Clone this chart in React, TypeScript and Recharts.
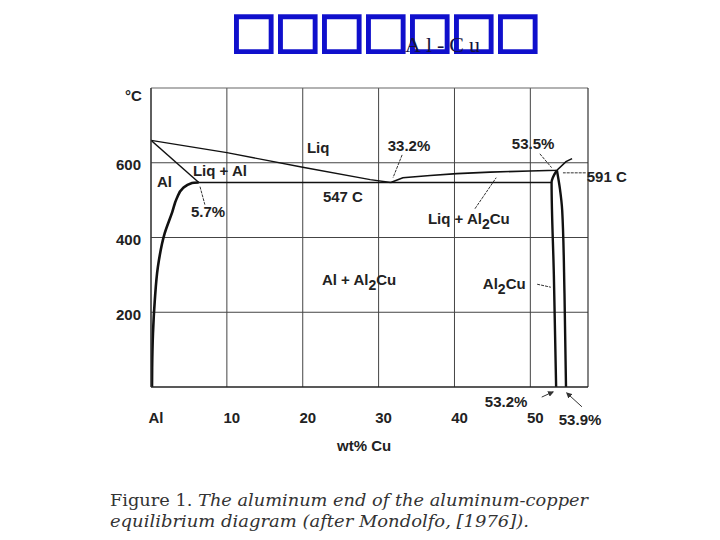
import React from 'react';
import {
  ComposedChart,
  Line,
  XAxis,
  YAxis,
  CartesianGrid,
  ReferenceLine,
  ReferenceDot,
} from 'recharts';

// ---- axes ----
const xTicks = [0, 10, 20, 30, 40, 50];
const xTickLabels = ['Al', '10', '20', '30', '40', '50'];
const yTicks = [200, 400, 600];
const xDomain = [0, 57.6];
const yDomain = [0, 800];

// ---- phase boundaries (wt% Cu, °C) ----
const liquidusAl = [
  { x: 0, t: 660 },
  { x: 10, t: 627 },
  { x: 20, t: 588 },
  { x: 28.9, t: 555 },
  { x: 31.6, t: 547 },
];
const liquidusAl2Cu = [
  { x: 31.6, t: 547 },
  { x: 33.2, t: 560 },
  { x: 36.8, t: 566 },
  { x: 40.3, t: 571 },
  { x: 44.7, t: 575 },
  { x: 49.9, t: 578 },
  { x: 53.5, t: 580 },
  { x: 54.7, t: 603 },
  { x: 55.5, t: 611 },
];
const solidusAl = [
  { x: 0, t: 660 },
  { x: 6.3, t: 547 },
];
const eutecticLine = [
  { x: 6.3, t: 547 },
  { x: 52.8, t: 547 },
];
const solvusAl = [
  { x: 6.3, t: 547 },
  { x: 5.4, t: 546 },
  { x: 4.2, t: 532 },
  { x: 3.4, t: 505 },
  { x: 2.8, t: 468 },
  { x: 1.8, t: 411 },
  { x: 0.9, t: 320 },
  { x: 0.5, t: 232 },
  { x: 0.26, t: 144 },
  { x: 0.15, t: 53 },
  { x: 0.13, t: 0 },
];
const al2CuLeft = [
  { x: 53.5, t: 580 },
  { x: 52.8, t: 547 },
  { x: 53.1, t: 300 },
  { x: 53.4, t: 0 },
];
const al2CuRight = [
  { x: 53.5, t: 580 },
  { x: 53.9, t: 530 },
  { x: 54.2, t: 472 },
  { x: 54.5, t: 250 },
  { x: 54.7, t: 0 },
];

// ---- leader lines ----
const leaders = [
  { x1: 6.46, t1: 536, x2: 7.1, t2: 488, arrow: false },
  { x1: 33.1, t1: 621, x2: 31.9, t2: 560, arrow: false },
  { x1: 51.25, t1: 624, x2: 52.8, t2: 587, arrow: false },
  { x1: 42.7, t1: 477, x2: 45.5, t2: 560, arrow: false },
  { x1: 50.9, t1: 275, x2: 52.7, t2: 267, arrow: false },
  { x1: 51.5, t1: -27, x2: 53.0, t2: -13, arrow: true },
  { x1: 56.8, t1: -53, x2: 54.8, t2: -16, arrow: true },
  { x1: 57.3, t1: 573, x2: 54.3, t2: 573, arrow: false },
];

// ---- annotation labels (left edge x, vertical centre t) ----
const labels = [
  { x: 20.55, t: 643, text: 'Liq', sub: '', rest: '' },
  { x: 5.53, t: 581, text: 'Liq + Al', sub: '', rest: '' },
  { x: 0.79, t: 552, text: 'Al', sub: '', rest: '' },
  { x: 22.66, t: 512, text: '547 C', sub: '', rest: '' },
  { x: 5.27, t: 472, text: '5.7%', sub: '', rest: '' },
  { x: 31.2, t: 648, text: '33.2%', sub: '', rest: '' },
  { x: 47.56, t: 653, text: '53.5%', sub: '', rest: '' },
  { x: 57.44, t: 565, text: '591 C', sub: '', rest: '' },
  { x: 36.5, t: 451, text: 'Liq + Al', sub: '2', rest: 'Cu' },
  { x: 22.53, t: 288, text: 'Al + Al', sub: '2', rest: 'Cu' },
  { x: 43.74, t: 277, text: 'Al', sub: '2', rest: 'Cu' },
  { x: 44.0, t: -37, text: '53.2%', sub: '', rest: '' },
  { x: 53.75, t: -85, text: '53.9%', sub: '', rest: '' },
];

const titleBoxes = ['□', '□', '□', '□', '□', '□', '□'];
const titleText = 'Al-Cu';
const captionLine1a = 'Figure 1. ';
const captionLine1b = 'The aluminum end of the aluminum-copper';
const captionLine2 = 'equilibrium diagram (after Mondolfo, [1976]).';

const SANS = 'Liberation Sans, Arial, sans-serif';
const INK = '#222';

const XTick = (props: any) => {
  const { x, y, payload, index } = props;
  const i = xTicks.indexOf(payload.value);
  return (
    <text
      x={x + 5}
      y={y + 30}
      textAnchor="middle"
      dominantBaseline="central"
      fontFamily={SANS}
      fontWeight="bold"
      fontSize={15}
      fill={INK}
    >
      {xTickLabels[i >= 0 ? i : index]}
    </text>
  );
};

const YTick = (props: any) => {
  const { x, y, payload } = props;
  return (
    <text
      x={x}
      y={y + 2}
      textAnchor="end"
      dominantBaseline="central"
      fontFamily={SANS}
      fontWeight="bold"
      fontSize={15}
      fill={INK}
    >
      {payload.value}
    </text>
  );
};

const makeLabelShape = (l: any) => (p: any) => (
  <text
    x={p.cx}
    y={p.cy}
    dominantBaseline="central"
    fontFamily={SANS}
    fontWeight="bold"
    fontSize={15}
    fill={INK}
  >
    <tspan>{l.text}</tspan>
    {l.sub ? (
      <tspan dy={6} fontSize={14}>
        {l.sub}
      </tspan>
    ) : null}
    {l.rest ? <tspan dy={-6}>{l.rest}</tspan> : null}
  </text>
);

const series = [
  { data: liquidusAl, w: 1.4, type: 'linear' },
  { data: liquidusAl2Cu, w: 1.6, type: 'linear' },
  { data: solidusAl, w: 1.4, type: 'linear' },
  { data: eutecticLine, w: 1.4, type: 'linear' },
  { data: solvusAl, w: 2.6, type: 'monotoneY' },
  { data: al2CuLeft, w: 2.4, type: 'monotoneY' },
  { data: al2CuRight, w: 2.4, type: 'monotoneY' },
];

export default function App() {
  return (
    <div style={{ position: 'absolute', left: 0, top: 0, width: 720, height: 540, background: '#fff' }}>
      <ComposedChart
        width={720}
        height={540}
        margin={{ top: 88, right: 132, bottom: 123, left: 111 }}
      >
        <CartesianGrid
          stroke="#444"
          strokeWidth={1}
          horizontalValues={yTicks}
          verticalValues={xTicks}
        />
        <XAxis
          type="number"
          dataKey="x"
          domain={xDomain}
          ticks={xTicks}
          allowDataOverflow
          height={30}
          tickSize={0}
          tickMargin={0}
          tickLine={false}
          axisLine={{ stroke: '#222', strokeWidth: 1.5 }}
          tick={<XTick />}
        />
        <YAxis
          type="number"
          domain={yDomain}
          ticks={yTicks}
          allowDataOverflow
          width={40}
          tickSize={0}
          tickMargin={10}
          tickLine={false}
          axisLine={{ stroke: '#333', strokeWidth: 1.2 }}
          tick={<YTick />}
        />
        <ReferenceLine y={800} stroke="#666" strokeWidth={1.2} />
        <ReferenceLine x={57.6} stroke="#333" strokeWidth={1.2} />
        {series.map((s, i) => (
          <Line
            key={'s' + i}
            data={s.data}
            dataKey="t"
            type={s.type as any}
            stroke="#111"
            strokeWidth={s.w}
            dot={false}
            activeDot={false}
            isAnimationActive={false}
            legendType="none"
          />
        ))}
        {leaders.map((l, i) => (
          <ReferenceLine
            key={'l' + i}
            segment={[
              { x: l.x1, y: l.t1 },
              { x: l.x2, y: l.t2 },
            ]}
            stroke="#333"
            strokeWidth={1}
            strokeDasharray={l.arrow ? undefined : '3 1'}
            ifOverflow="visible"
            markerEnd={l.arrow ? 'url(#arrowHead)' : undefined}
          />
        ))}
        {labels.map((l, i) => (
          <ReferenceDot
            key={'t' + i}
            x={l.x}
            y={l.t}
            r={0}
            ifOverflow="visible"
            shape={makeLabelShape(l)}
          />
        ))}
      </ComposedChart>
      <svg
        width={720}
        height={540}
        style={{ position: 'absolute', left: 0, top: 0, pointerEvents: 'none' }}
      >
        <defs>
          <marker id="arrowHead" markerWidth="6" markerHeight="6" refX="5" refY="3" orient="auto">
            <path d="M0,0 L6,3 L0,6 z" fill="#333" />
          </marker>
        </defs>
        {titleBoxes.map((b, i) => (
          <text
            key={'b' + i}
            x={254 + i * 44}
            y={47}
            textAnchor="middle"
            fontFamily="DejaVu Sans"
            fontSize={49}
            fill="#1010cc"
            stroke="#1010cc"
            strokeWidth={2.2}
          >
            {b}
          </text>
        ))}
        <text
          x={405}
          y={52}
          fontFamily="Liberation Serif, serif"
          fontSize={22}
          letterSpacing={5}
          fill="#14143c"
        >
          {titleText}
        </text>
        <text x={125} y={95} dominantBaseline="central" fontFamily={SANS} fontWeight="bold" fontSize={15} fill={INK}>
          °C
        </text>
        <text x={337} y={445} dominantBaseline="central" fontFamily={SANS} fontWeight="bold" fontSize={15} fill={INK}>
          wt% Cu
        </text>
        <text
          x={110}
          y={506}
          fontFamily="DejaVu Serif, serif"
          fontSize={16}
          fill="#333"
          textLength={478}
          lengthAdjust="spacingAndGlyphs"
        >
          <tspan>{captionLine1a}</tspan>
          <tspan fontStyle="italic">{captionLine1b}</tspan>
        </text>
        <text
          x={110}
          y={527}
          fontFamily="DejaVu Serif, serif"
          fontSize={16}
          fontStyle="italic"
          fill="#333"
          textLength={419}
          lengthAdjust="spacingAndGlyphs"
        >
          {captionLine2}
        </text>
      </svg>
    </div>
  );
}
